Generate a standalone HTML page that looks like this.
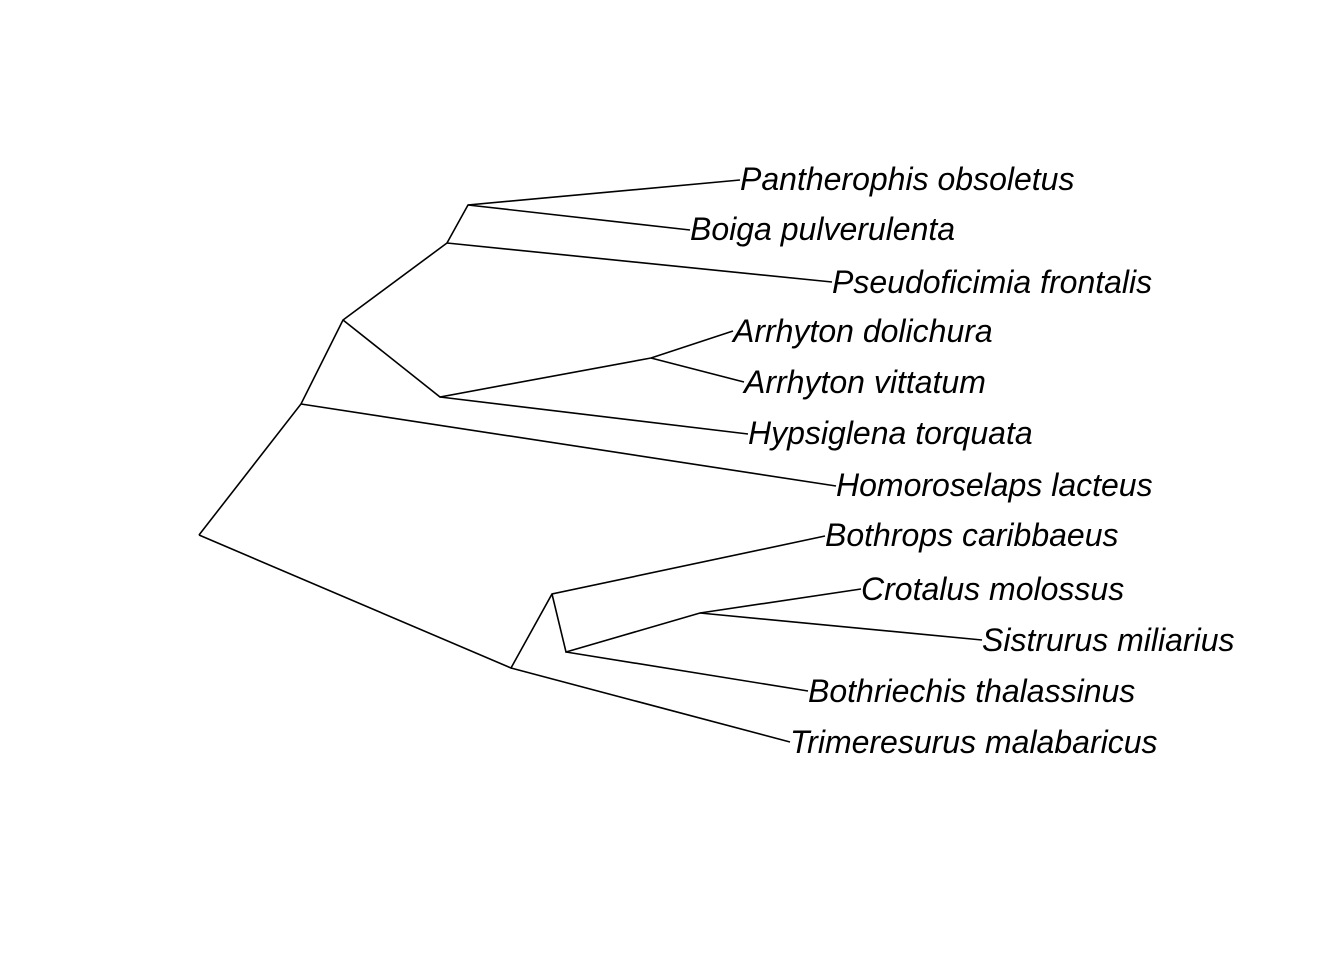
<!DOCTYPE html>
<html><head><meta charset="utf-8"><style>html,body{margin:0;padding:0;background:#fff}</style></head>
<body>
<svg width="1344" height="960" xmlns="http://www.w3.org/2000/svg">
<g stroke="#000" stroke-width="1.6" fill="none">
<polyline points="199,535 301,404 343,320 447,243 468,205 740,180"/>
<line x1="468" y1="205" x2="690" y2="230"/>
<line x1="447" y1="243" x2="832" y2="282"/>
<polyline points="343,320 440,397 651,358 733,331"/>
<line x1="651" y1="358" x2="744" y2="382"/>
<line x1="440" y1="397" x2="748" y2="434"/>
<line x1="301" y1="404" x2="836" y2="486"/>
<polyline points="199,535 511,668 552,594 825,536"/>
<polyline points="552,594 566,652 700,613 861,589"/>
<line x1="700" y1="613" x2="982" y2="640"/>
<line x1="566" y1="652" x2="808" y2="691"/>
<line x1="511" y1="668" x2="790" y2="742"/>
</g>
<g font-family="Liberation Sans, sans-serif" font-style="italic" font-size="32" fill="#000">
<text x="740" y="190">Pantherophis obsoletus</text>
<text x="690" y="240">Boiga pulverulenta</text>
<text x="832" y="293">Pseudoficimia frontalis</text>
<text x="733" y="342">Arrhyton dolichura</text>
<text x="744" y="393">Arrhyton vittatum</text>
<text x="748" y="444">Hypsiglena torquata</text>
<text x="836" y="496">Homoroselaps lacteus</text>
<text x="825" y="546">Bothrops caribbaeus</text>
<text x="861" y="600">Crotalus molossus</text>
<text x="982" y="651">Sistrurus miliarius</text>
<text x="808" y="702">Bothriechis thalassinus</text>
<text x="790" y="753">Trimeresurus malabaricus</text>
</g>
</svg>
</body></html>
